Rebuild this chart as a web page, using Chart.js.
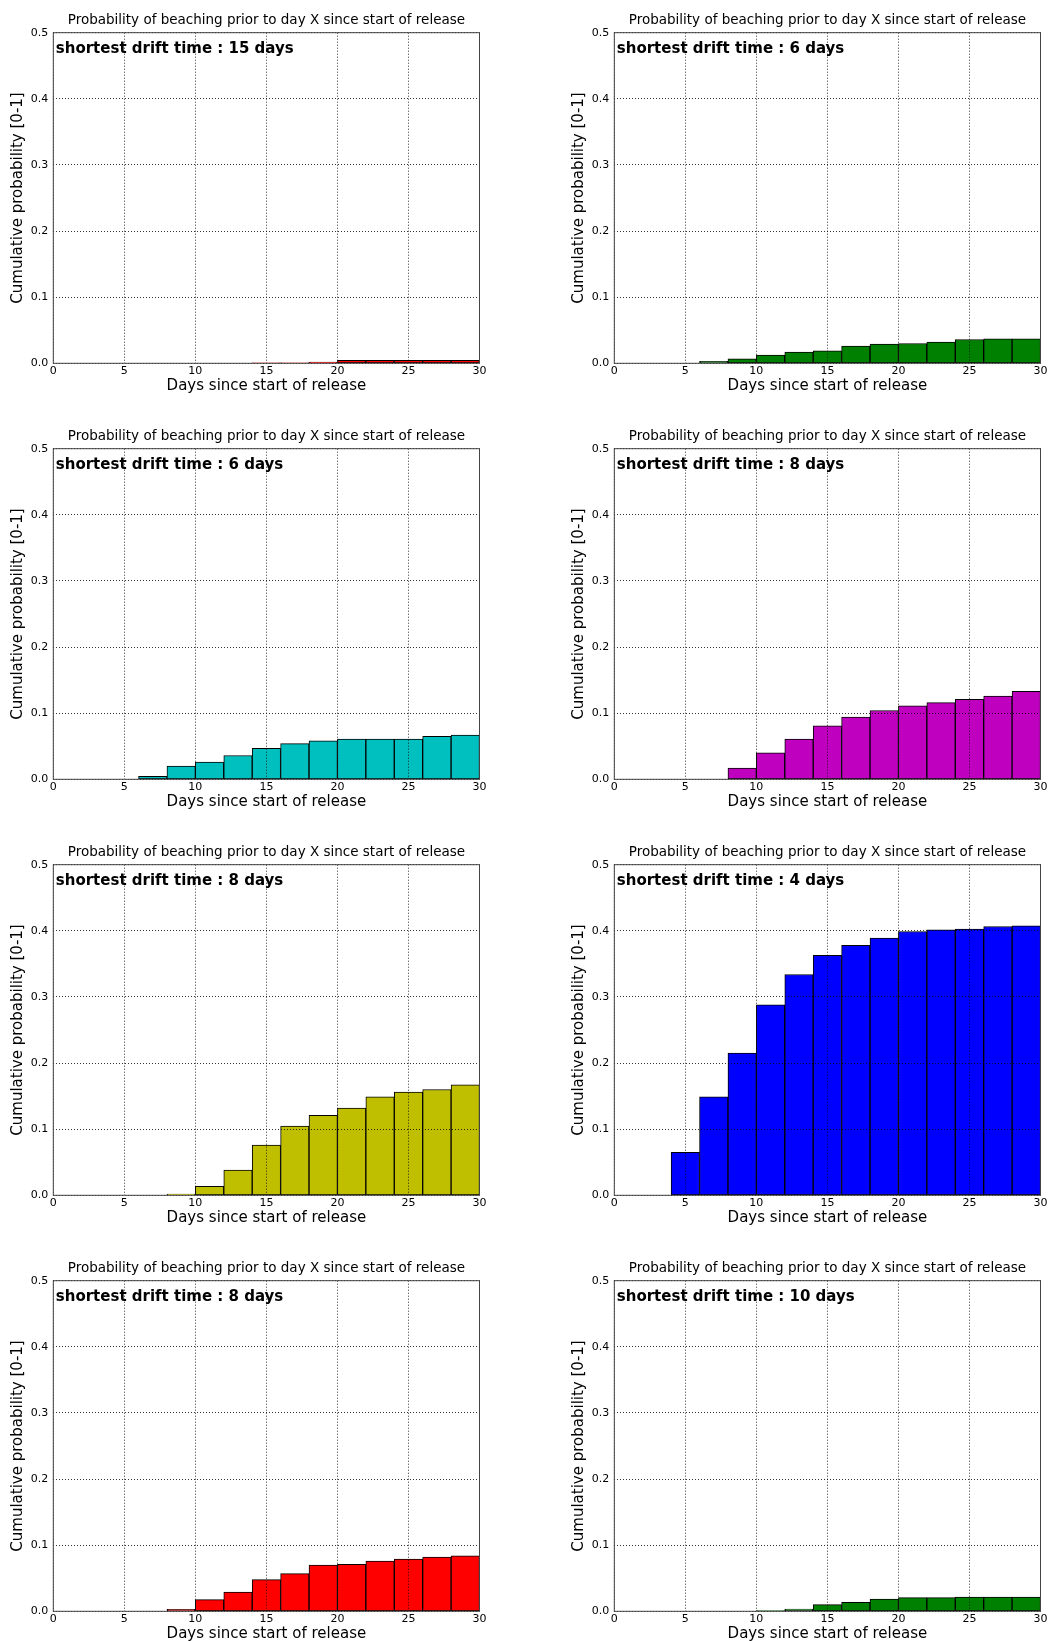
<!DOCTYPE html>
<html>
<head>
<meta charset="UTF-8">
<title>Probability of beaching prior to day X</title>
<script src="https://cdn.jsdelivr.net/npm/chart.js"></script>
<style>
  html, body { margin: 0; padding: 0; background: white; overflow: hidden; }
  body { width: 1049px; height: 1641px; position: relative; }
  canvas { position: absolute; }
</style>
</head>
<body>
<script>
// bins of 2 days from 0 to 30, values are cumulative probability per bin
const binCenters = [1, 3, 5, 7, 9, 11, 13, 15, 17, 19, 21, 23, 25, 27, 29];
const shortestDrift = [15, 6, 6, 8, 8, 4, 8, 10];
const barColours = ['#ff0000', '#008000', '#00bfbf', '#bf00bf', '#bfbf00', '#0000ff', '#ff0000', '#008000'];

const panel1 = [null, null, null, null, null, null, null, 0.0005, 0.0005, 0.002, 0.0045, 0.0045, 0.0045, 0.0045, 0.0045];
const panel2 = [null, null, null, 0.003, 0.0066, 0.0126, 0.017, 0.019, 0.026, 0.029, 0.030, 0.032, 0.036, 0.037, 0.037];
const panel3 = [null, null, null, 0.0045, 0.020, 0.026, 0.036, 0.047, 0.054, 0.058, 0.061, 0.061, 0.061, 0.065, 0.067];
const panel4 = [null, null, null, null, 0.017, 0.040, 0.061, 0.081, 0.094, 0.104, 0.111, 0.116, 0.121, 0.126, 0.133];
const panel5 = [null, null, null, null, 0.002, 0.0136, 0.038, 0.076, 0.1045, 0.121, 0.132, 0.149, 0.156, 0.160, 0.167];
const panel6 = [null, null, 0.065, 0.149, 0.215, 0.288, 0.334, 0.363, 0.378, 0.389, 0.399, 0.4015, 0.4025, 0.4065, 0.4075];
const panel7 = [null, null, null, null, 0.003, 0.0176, 0.029, 0.048, 0.057, 0.070, 0.071, 0.076, 0.079, 0.082, 0.084];
const panel8 = [null, null, null, null, null, 0.001, 0.0035, 0.010, 0.0136, 0.0186, 0.0206, 0.0206, 0.0216, 0.0216, 0.0216];

const panels = [panel1, panel2, panel3, panel4, panel5, panel6, panel7, panel8];

Chart.defaults.font.family = 'DejaVu Sans';
Chart.defaults.color = '#000';

// box round the plot, like the matplotlib axes
const framePlugin = {
  id: 'frame',
  afterDraw(chart) {
    const a = chart.chartArea;
    const ctx = chart.ctx;
    ctx.save();
    ctx.strokeStyle = '#444';
    ctx.lineWidth = 1;
    ctx.strokeRect(a.left, a.top, a.right - a.left, a.bottom - a.top);
    ctx.restore();
  }
};

const driftNote = {
  id: 'driftNote',
  afterDraw(chart, args, opts) {
    const a = chart.chartArea;
    const ctx = chart.ctx;
    ctx.save();
    ctx.font = 'bold 15px "DejaVu Sans"';
    ctx.fillStyle = '#000';
    ctx.textBaseline = 'middle';
    ctx.textAlign = 'left';
    ctx.fillText(opts.text, a.left + 2.5, a.top + 16.5);
    ctx.restore();
  }
};

panels.forEach(function(vals, i) {
  const row = Math.floor(i / 2);
  const col = i % 2;
  const cv = document.createElement('canvas');
  cv.width = 488;
  cv.height = 416;
  cv.style.left = (col ? 561 : 0) + 'px';
  cv.style.top = (row * 416) + 'px';
  document.body.appendChild(cv);

  const points = [];
  binCenters.forEach(function(c, k) {
    if (vals[k] !== null) points.push({ x: c, y: vals[k] });
  });

  new Chart(cv.getContext('2d'), {
    type: 'bar',
    data: {
      datasets: [{
        data: points,
        backgroundColor: barColours[i],
        borderColor: '#000',
        borderWidth: 1,
        borderSkipped: false,
        barPercentage: 1,
        categoryPercentage: 1
      }]
    },
    options: {
      responsive: false,
      devicePixelRatio: 1,
      animation: false,
      layout: { padding: { left: 0, right: 7, top: 0, bottom: 0 } },
      plugins: {
        legend: { display: false },
        tooltip: { enabled: false },
        title: {
          display: true,
          fullSize: false,
          text: 'Probability of beaching prior to day X since start of release',
          font: { size: 13.5, weight: 'normal' },
          color: '#000',
          padding: { top: 12, bottom: 4.5 }
        },
        driftNote: { text: 'shortest drift time : ' + shortestDrift[i] + ' days' }
      },
      scales: {
        x: {
          type: 'linear',
          min: 0,
          max: 30,
          offset: false,
          grid: { offset: false, color: 'rgba(0,0,0,0.8)', lineWidth: 1, drawTicks: false, z: 1 },
          border: { display: false, dash: [1, 2] },
          ticks: { stepSize: 5, padding: 1.5, font: { size: 11 }, color: '#000', maxRotation: 0 },
          title: {
            display: true,
            text: 'Days since start of release',
            font: { size: 15 },
            color: '#000',
            padding: { top: 0, bottom: 21 }
          },
          afterFit: function(scale) { scale.height = 52.7; }
        },
        y: {
          min: 0,
          max: 0.5,
          grid: { color: 'rgba(0,0,0,0.8)', lineWidth: 1, drawTicks: false, z: 1 },
          border: { display: false, dash: [1, 2] },
          ticks: {
            stepSize: 0.1,
            padding: 5,
            font: { size: 11 },
            color: '#000',
            callback: function(v) { return v.toFixed(1); }
          },
          title: {
            display: true,
            text: 'Cumulative probability [0-1]',
            font: { size: 15 },
            color: '#000',
            padding: { top: 9.5, bottom: 0 }
          },
          afterFit: function(scale) { scale.width = 53.3; }
        }
      }
    },
    plugins: [framePlugin, driftNote]
  });
});
</script>
</body>
</html>
